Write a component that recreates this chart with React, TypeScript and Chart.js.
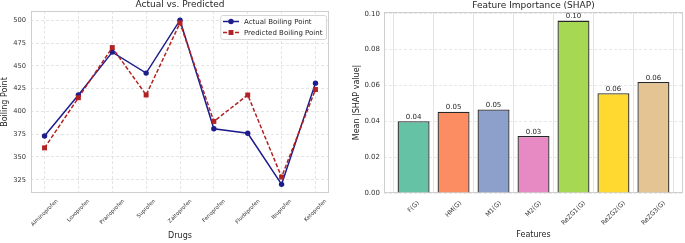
import React, { useEffect, useRef } from "react";
import { Chart, registerables } from "chart.js";

Chart.register(...registerables);

const FONT = '"DejaVu Sans", "Liberation Sans", sans-serif';
const TEXT = "#262626";

// ---- Left chart data ----
const drugs = [
  "Alminoprofen",
  "Loxoprofen",
  "Pranoprofen",
  "Suprofen",
  "Zaltoprofen",
  "Fenoprofen",
  "Flurbiprofen",
  "Ibuprofen",
  "Ketoprofen",
];
const actualBP = [373, 418, 465, 442, 500, 381, 376, 320, 431];
const predictedBP = [360, 415, 470, 418, 497, 389, 418, 328, 424];
const bpTicks = [325, 350, 375, 400, 425, 450, 475, 500];

// ---- Right chart data ----
const features = ["F(G)", "HM(G)", "M1(G)", "M2(G)", "ReZG1(G)", "ReZG2(G)", "ReZG3(G)"];
const shapValues = [0.0401, 0.0454, 0.0466, 0.0318, 0.0962, 0.0557, 0.062];
const shapTicks = [0, 0.02, 0.04, 0.06, 0.08, 0.1];
const featureColors = ["#66c2a5", "#fc8d62", "#8da0cb", "#e78ac3", "#a6d854", "#ffd92f", "#e5c494"];

const framePlugin = {
  id: "frame",
  beforeDatasetsDraw(chart: any) {
    const { ctx, chartArea: a } = chart;
    ctx.save();
    ctx.strokeStyle = "#cfcfcf";
    ctx.lineWidth = 1;
    ctx.strokeRect(Math.round(a.left) + 0.5, Math.round(a.top) + 0.5, Math.round(a.right - a.left) - 1, Math.round(a.bottom - a.top) - 1);
    ctx.restore();
  },
};

const rotatedLabels = (labels: string[], fontSize: number, gap: number) => ({
  id: "rotLabels",
  afterDraw(chart: any) {
    const { ctx, chartArea } = chart;
    const xs = chart.scales.x;
    ctx.save();
    ctx.font = `${fontSize}px ${FONT}`;
    ctx.fillStyle = "#333333";
    ctx.textAlign = "center";
    ctx.textBaseline = "middle";
    labels.forEach((lab, i) => {
      const w = ctx.measureText(lab).width;
      const h = fontSize;
      const H = (w + h) * Math.SQRT1_2;
      const x = xs.getPixelForValue(i);
      const y = chartArea.bottom + gap + H / 2;
      ctx.save();
      ctx.translate(x, y);
      ctx.rotate(-Math.PI / 4);
      ctx.fillText(lab, 0, 0);
      ctx.restore();
    });
    ctx.restore();
  },
});

const legendPlugin = {
  id: "insideLegend",
  afterDraw(chart: any) {
    const { ctx, chartArea: a } = chart;
    const ds = chart.data.datasets;
    ctx.save();
    ctx.font = `7px ${FONT}`;
    const maxW = Math.max(...ds.map((d: any) => ctx.measureText(d.label).width));
    const boxW = 23.7 + maxW + 3.5;
    const boxH = 24;
    const x0 = a.right - 3 - boxW;
    const y0 = a.top + 4;
    ctx.fillStyle = "rgba(255,255,255,0.9)";
    ctx.strokeStyle = "#d6d6d6";
    ctx.lineWidth = 1;
    ctx.beginPath();
    ctx.roundRect(x0 + 0.5, y0 + 0.5, boxW, boxH, 2);
    ctx.fill();
    ctx.stroke();
    ds.forEach((d: any, i: number) => {
      const cy = y0 + 6.5 + i * 11;
      ctx.strokeStyle = d.borderColor;
      ctx.lineWidth = d.borderWidth;
      ctx.setLineDash(d.borderDash || []);
      ctx.beginPath();
      ctx.moveTo(x0 + 2.7, cy);
      ctx.lineTo(x0 + 18.7, cy);
      ctx.stroke();
      ctx.setLineDash([]);
      ctx.fillStyle = d.pointBackgroundColor;
      const mx = x0 + 10.7;
      if (d.pointStyle === "rect") {
        const s = d.pointRadius * Math.SQRT1_2;
        ctx.fillRect(mx - s, cy - s, 2 * s, 2 * s);
      } else {
        ctx.beginPath();
        ctx.arc(mx, cy, d.pointRadius, 0, Math.PI * 2);
        ctx.fill();
      }
      ctx.fillStyle = TEXT;
      ctx.textAlign = "left";
      ctx.textBaseline = "middle";
      ctx.fillText(d.label, x0 + 23.7, cy + 0.5);
    });
    ctx.restore();
  },
};

const barLabelPlugin = {
  id: "barLabels",
  afterDatasetsDraw(chart: any) {
    const { ctx } = chart;
    const meta = chart.getDatasetMeta(0);
    const data = chart.data.datasets[0].data;
    ctx.save();
    ctx.font = `7px ${FONT}`;
    ctx.fillStyle = TEXT;
    ctx.textAlign = "center";
    ctx.textBaseline = "bottom";
    meta.data.forEach((el: any, i: number) => {
      ctx.fillText(data[i].y.toFixed(2), el.x, el.y - 0.5);
    });
    ctx.restore();
  },
};

function LineChart() {
  const ref = useRef<HTMLCanvasElement | null>(null);
  useEffect(() => {
    if (!ref.current) return;
    const chart = new Chart(ref.current, {
      type: "line",
      data: {
        datasets: [
          {
            label: "Actual Boiling Point",
            data: actualBP.map((v, i) => ({ x: i, y: v })),
            borderColor: "#1c1c8c",
            backgroundColor: "#1c1c8c",
            pointBackgroundColor: "#1c1c8c",
            pointBorderColor: "#1c1c8c",
            pointStyle: "circle",
            pointRadius: 2.7,
            pointBorderWidth: 0,
            borderWidth: 1.5,
            order: 1,
          } as any,
          {
            label: "Predicted Boiling Point",
            data: predictedBP.map((v, i) => ({ x: i, y: v })),
            borderColor: "#b22222",
            backgroundColor: "#b22222",
            pointBackgroundColor: "#b22222",
            pointBorderColor: "#b22222",
            pointStyle: "rect",
            pointRadius: 3.5,
            pointBorderWidth: 0,
            borderWidth: 1.5,
            borderDash: [4, 2],
            order: 0,
          } as any,
        ],
      },
      options: {
        animation: false,
        responsive: false,
        layout: { padding: { left: 0, right: 11, top: 0, bottom: 0 } },
        plugins: {
          legend: { display: false },
          tooltip: { enabled: false },
          title: {
            display: true,
            text: "Actual vs. Predicted",
            fullSize: false,
            color: TEXT,
            font: { family: FONT, size: 9, weight: "normal", lineHeight: 1 },
            padding: { top: 0.5, bottom: 1.5 },
          },
        },
        scales: {
          x: {
            type: "linear",
            min: -0.4,
            max: 8.4,
            afterBuildTicks: (s: any) => {
              s.ticks = drugs.map((_, i) => ({ value: i }));
            },
            afterFit: (s: any) => {
              s.height = 50;
            },
            ticks: { display: false },
            grid: { color: "#dedede", lineWidth: 0.8, drawTicks: false },
            border: { display: false, dash: [3, 2] },
            title: {
              display: true,
              text: "Drugs",
              color: TEXT,
              font: { family: FONT, size: 8 },
              padding: { top: 0, bottom: 2.5 },
            },
          },
          y: {
            type: "linear",
            min: 310.5,
            max: 510.1,
            afterBuildTicks: (s: any) => {
              s.ticks = bpTicks.map((v) => ({ value: v }));
            },
            afterFit: (s: any) => {
              s.width = 31;
            },
            ticks: { color: "#333333", font: { family: FONT, size: 6.7 }, padding: 5 },
            grid: { color: "#dedede", lineWidth: 0.8, drawTicks: false },
            border: { display: false, dash: [3, 2] },
            title: {
              display: true,
              text: "Boiling Point",
              color: TEXT,
              font: { family: FONT, size: 8 },
              padding: { top: 0, bottom: 0 },
            },
          },
        },
      } as any,
      plugins: [framePlugin, rotatedLabels(drugs, 5.3, 5.5), legendPlugin],
    });
    return () => chart.destroy();
  }, []);
  return (
    <canvas
      ref={ref}
      width={340}
      height={243}
      style={{ position: "absolute", left: 0, top: 0, width: 340, height: 243 }}
    />
  );
}

function BarChart() {
  const ref = useRef<HTMLCanvasElement | null>(null);
  useEffect(() => {
    if (!ref.current) return;
    const chart = new Chart(ref.current, {
      type: "bar",
      data: {
        datasets: [
          {
            label: "Mean |SHAP value|",
            data: shapValues.map((v, i) => ({ x: i, y: v })),
            backgroundColor: featureColors,
            borderColor: "#262626",
            borderWidth: 1.3,
            categoryPercentage: 1,
            barPercentage: 0.8,
          } as any,
        ],
      },
      options: {
        animation: false,
        responsive: false,
        layout: { padding: { left: 0, right: 2, top: 0, bottom: 0 } },
        plugins: {
          legend: { display: false },
          tooltip: { enabled: false },
          title: {
            display: true,
            text: "Feature Importance (SHAP)",
            fullSize: false,
            color: TEXT,
            font: { family: FONT, size: 9, weight: "normal", lineHeight: 1 },
            padding: { top: 0.8, bottom: 2.2 },
          },
        },
        scales: {
          x: {
            type: "linear",
            min: -0.74,
            max: 6.74,
            offset: false,
            afterBuildTicks: (s: any) => {
              s.ticks = features.map((_, i) => ({ value: i }));
            },
            afterFit: (s: any) => {
              s.height = 50;
            },
            ticks: { display: false },
            grid: { color: "#e4e4e4", lineWidth: 1, drawTicks: false },
            border: { display: false },
            title: {
              display: true,
              text: "Features",
              color: TEXT,
              font: { family: FONT, size: 8 },
              padding: { top: 0, bottom: 3 },
            },
          },
          y: {
            type: "linear",
            min: 0,
            max: 0.101,
            afterBuildTicks: (s: any) => {
              s.ticks = shapTicks.map((v) => ({ value: v }));
            },
            afterFit: (s: any) => {
              s.width = 44;
            },
            ticks: {
              color: "#333333",
              font: { family: FONT, size: 7 },
              padding: 4,
              callback: (v: any) => Number(v).toFixed(2),
            },
            grid: { color: "#e2e2e2", lineWidth: 0.8, drawTicks: false },
            border: { display: false, dash: [3, 2] },
            title: {
              display: true,
              text: "Mean |SHAP value|",
              color: TEXT,
              font: { family: FONT, size: 8 },
              padding: { top: 12.2, bottom: 0 },
            },
          },
        },
      } as any,
      plugins: [framePlugin, rotatedLabels(features, 6.3, 7), barLabelPlugin],
    });
    return () => chart.destroy();
  }, []);
  return (
    <canvas
      ref={ref}
      width={345}
      height={243}
      style={{ position: "absolute", left: 340, top: 0, width: 345, height: 243 }}
    />
  );
}

export default function App() {
  return (
    <div
      style={{
        position: "absolute",
        left: 0,
        top: 0,
        width: 685,
        height: 243,
        background: "#ffffff",
        overflow: "hidden",
      }}
    >
      <LineChart />
      <BarChart />
    </div>
  );
}
